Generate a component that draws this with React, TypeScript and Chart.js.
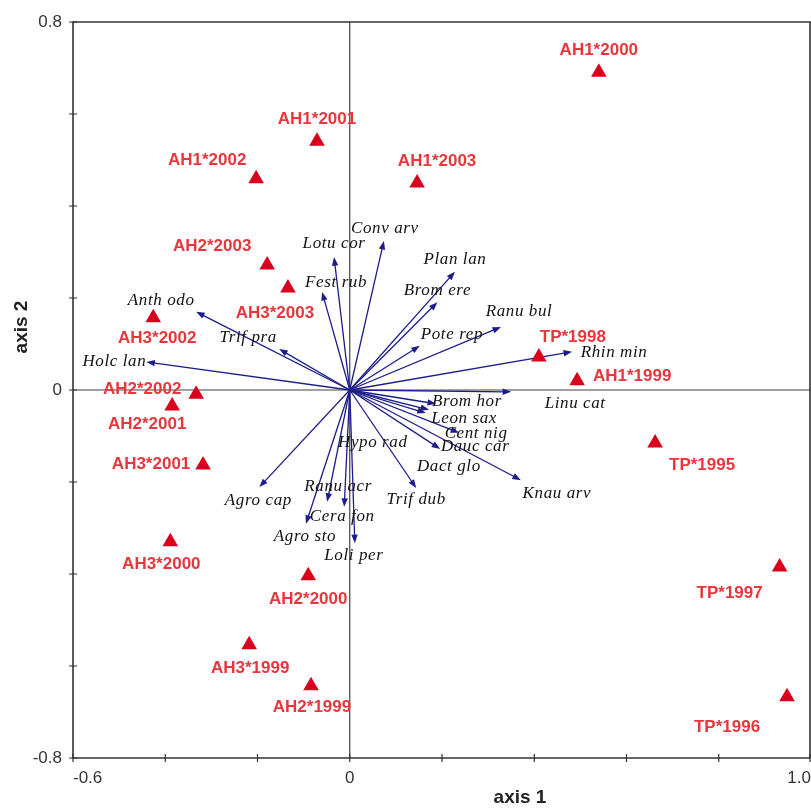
import React, { useEffect, useRef } from 'react';
import { Chart, registerables } from 'chart.js';

Chart.register(...registerables);

// ---------- data ----------
const siteNames = [
  'AH1*2000', 'AH1*2001', 'AH1*2002', 'AH1*2003', 'AH2*2003', 'AH3*2003', 'AH3*2002',
  'AH2*2002', 'AH2*2001', 'AH3*2001', 'AH3*2000', 'AH2*2000', 'AH3*1999', 'AH2*1999',
  'TP*1998', 'AH1*1999', 'TP*1995', 'TP*1997', 'TP*1996',
];
const siteX = [
  0.540, -0.071, -0.203, 0.146, -0.179, -0.134, -0.426,
  -0.333, -0.385, -0.318, -0.389, -0.090, -0.218, -0.084,
  0.410, 0.493, 0.662, 0.932, 0.948,
];
const siteY = [
  0.691, 0.541, 0.459, 0.450, 0.272, 0.222, 0.157,
  -0.009, -0.035, -0.163, -0.330, -0.404, -0.554, -0.643,
  0.072, 0.020, -0.115, -0.385, -0.667,
];

const speciesNames = [
  'Conv arv', 'Lotu cor', 'Fest rub', 'Plan lan', 'Brom ere', 'Ranu bul', 'Pote rep',
  'Rhin min', 'Linu cat', 'Brom hor', 'Leon sax', 'Dact glo', 'Cent nig', 'Dauc car',
  'Knau arv', 'Trif dub', 'Hypo rad', 'Ranu acr', 'Cera fon', 'Agro sto', 'Loli per',
  'Agro cap', 'Anth odo', 'Trif pra', 'Holc lan',
];
const speciesX = [
  0.074, -0.034, -0.060, 0.228, 0.190, 0.328, 0.152,
  0.482, 0.350, 0.187, 0.172, 0.165, 0.237, 0.196,
  0.371, 0.144, 0.0, -0.049, -0.012, -0.095, 0.011,
  -0.196, -0.333, -0.153, -0.441,
];
const speciesY = [
  0.324, 0.289, 0.213, 0.257, 0.191, 0.137, 0.096,
  0.083, -0.004, -0.030, -0.043, -0.050, -0.093, -0.128,
  -0.196, -0.213, 0.0, -0.243, -0.254, -0.291, -0.333,
  -0.211, 0.170, 0.089, 0.061,
];

const xTickValues = [-0.6, 0, 1.0];
const xTickLabels = ['-0.6', '0', '1.0'];
const yTickValues = [-0.8, 0, 0.8];
const yTickLabels = ['-0.8', '0', '0.8'];

const xAxisTitle = 'axis 1';
const yAxisTitle = 'axis 2';

// ---------- layout (pixel offsets of labels) ----------
const siteLabelOffsets: [number, number][] = [
  [0, -22], [0, -22], [-49, -19], [20, -22], [-55, -19], [-13, 25], [4, 21],
  [-54, -5], [-25, 18], [-52, -1], [-9, 23], [0, 23], [1, 23], [1, 22],
  [34, -20], [55, -4], [47, 22], [-50, 26], [-60, 30],
];
const speciesLabelOffsets: [number, number][] = [
  [1, -12], [0, -14], [14, -9], [0, -12], [0, -12], [18, -15], [32, -11],
  [42, 1], [64, 12], [31, -2], [35, 9], [23, 54], [17, 1], [35, -2],
  [36, 13], [0, 12], [23, 53], [11, -15], [-2, 10], [-1, 13], [-1, 12],
  [-1, 13], [-35, -11], [-31, -12], [-32, 0],
];

const SANS = '"Liberation Sans", Arial, sans-serif';
const SERIF = '"Liberation Serif", "Times New Roman", serif';
const ARROW = '#1c1c8a';
const SITE_MARK = '#d8001c';
const SITE_TEXT = '#e8363d';

function labelFor(v: number, values: number[], labels: string[]) {
  for (let i = 0; i < values.length; i++) {
    if (Math.abs(v - values[i]) < 1e-6) return labels[i];
  }
  return '';
}

const biplotPlugin = {
  id: 'biplot',
  beforeDatasetsDraw(chart: any) {
    const { ctx, chartArea: a, scales } = chart;
    const xs = scales.x;
    const ys = scales.y;
    ctx.save();
    const x0 = xs.getPixelForValue(0);
    const y0 = ys.getPixelForValue(0);

    // zero lines
    ctx.strokeStyle = '#444';
    ctx.lineWidth = 1.2;
    ctx.beginPath();
    ctx.moveTo(a.left, y0);
    ctx.lineTo(a.right, y0);
    ctx.moveTo(x0, a.top);
    ctx.lineTo(x0, a.bottom);
    ctx.stroke();

    // frame
    ctx.strokeStyle = '#333';
    ctx.lineWidth = 1.6;
    ctx.beginPath();
    ctx.moveTo(a.left, a.top);
    ctx.lineTo(a.right - 1, a.top);
    ctx.lineTo(a.right - 1, a.bottom);
    ctx.lineTo(a.left, a.bottom);
    ctx.closePath();
    ctx.stroke();

    // crossing tick marks
    ctx.lineWidth = 1.2;
    ctx.beginPath();
    xs.ticks.forEach((t: any) => {
      const px = Math.min(xs.getPixelForValue(t.value), a.right - 1);
      ctx.moveTo(px, a.bottom - 4);
      ctx.lineTo(px, a.bottom + 4);
    });
    ys.ticks.forEach((t: any) => {
      const py = ys.getPixelForValue(t.value);
      ctx.moveTo(a.left - 4, py);
      ctx.lineTo(a.left + 4, py);
    });
    ctx.stroke();

    // species arrows
    ctx.strokeStyle = ARROW;
    ctx.fillStyle = ARROW;
    ctx.lineWidth = 1.3;
    for (let i = 0; i < speciesNames.length; i++) {
      const tx = xs.getPixelForValue(speciesX[i]);
      const ty = ys.getPixelForValue(speciesY[i]);
      const dx = tx - x0;
      const dy = ty - y0;
      const len = Math.hypot(dx, dy);
      if (len < 10) continue;
      const ux = dx / len;
      const uy = dy / len;
      const hl = 8.5;
      const hw = 3.2;
      ctx.beginPath();
      ctx.moveTo(x0, y0);
      ctx.lineTo(tx - ux * hl * 0.6, ty - uy * hl * 0.6);
      ctx.stroke();
      ctx.beginPath();
      ctx.moveTo(tx, ty);
      ctx.lineTo(tx - ux * hl - uy * hw, ty - uy * hl + ux * hw);
      ctx.lineTo(tx - ux * hl + uy * hw, ty - uy * hl - ux * hw);
      ctx.closePath();
      ctx.fill();
    }

    // species labels
    ctx.fillStyle = '#111';
    ctx.font = `italic 17px ${SERIF}`;
    try { (ctx as any).letterSpacing = '0.6px'; } catch (e) { /* ignore */ }
    ctx.textAlign = 'center';
    ctx.textBaseline = 'middle';
    for (let i = 0; i < speciesNames.length; i++) {
      const tx = xs.getPixelForValue(speciesX[i]);
      const ty = ys.getPixelForValue(speciesY[i]);
      const [ox, oy] = speciesLabelOffsets[i];
      ctx.fillText(speciesNames[i], tx + ox, ty + oy);
    }
    try { (ctx as any).letterSpacing = '0px'; } catch (e) { /* ignore */ }
    ctx.restore();
  },
  afterDatasetsDraw(chart: any) {
    const { ctx, scales } = chart;
    const xs = scales.x;
    const ys = scales.y;
    ctx.save();
    ctx.fillStyle = SITE_TEXT;
    ctx.font = `bold 17px ${SANS}`;
    ctx.textAlign = 'center';
    ctx.textBaseline = 'middle';
    for (let i = 0; i < siteNames.length; i++) {
      const px = xs.getPixelForValue(siteX[i]);
      const py = ys.getPixelForValue(siteY[i]);
      const [ox, oy] = siteLabelOffsets[i];
      ctx.fillText(siteNames[i], px + ox, py + oy);
    }
    ctx.restore();
  },
  afterDraw(chart: any) {
    const { ctx } = chart;
    ctx.save();
    ctx.fillStyle = '#222';
    ctx.font = `bold 19px ${SANS}`;
    ctx.textAlign = 'center';
    ctx.textBaseline = 'middle';
    ctx.fillText(xAxisTitle, 520, 798);
    ctx.translate(22, 327);
    ctx.rotate(-Math.PI / 2);
    ctx.fillText(yAxisTitle, 0, 0);
    ctx.restore();
  },
};

export default function App() {
  const canvasRef = useRef<HTMLCanvasElement | null>(null);

  useEffect(() => {
    document.body.style.margin = '0';
    const canvas = canvasRef.current;
    if (!canvas) return;
    const chart = new Chart(canvas, {
      type: 'scatter',
      data: {
        datasets: [
          {
            label: 'sites',
            data: siteNames.map((_, i) => ({ x: siteX[i], y: siteY[i] })),
            pointStyle: 'triangle',
            pointRadius: 9,
            pointHoverRadius: 9,
            backgroundColor: SITE_MARK,
            borderColor: SITE_MARK,
            borderWidth: 0,
            clip: false,
          },
        ],
      },
      options: {
        responsive: false,
        animation: false,
        devicePixelRatio: 1,
        layout: { autoPadding: false, padding: { top: 22, right: 0, left: 0, bottom: 0 } },
        plugins: {
          legend: { display: false },
          tooltip: { enabled: false },
        },
        scales: {
          x: {
            type: 'linear',
            min: -0.6,
            max: 1.0,
            grid: { display: false, drawTicks: true, tickLength: 10 },
            border: { display: false },
            afterFit: (s: any) => {
              s.height = 51;
            },
            ticks: {
              stepSize: 0.2,
              autoSkip: false,
              maxRotation: 0,
              align: 'inner',
              padding: 0,
              color: '#333',
              font: { family: SANS, size: 17 },
              callback: (v: any) => labelFor(Number(v), xTickValues, xTickLabels),
            },
          },
          y: {
            type: 'linear',
            min: -0.8,
            max: 0.8,
            grid: { display: false, drawTicks: false },
            border: { display: false },
            afterFit: (s: any) => {
              s.width = 73;
            },
            ticks: {
              stepSize: 0.2,
              autoSkip: false,
              padding: 11,
              color: '#333',
              font: { family: SANS, size: 17 },
              callback: (v: any) => labelFor(Number(v), yTickValues, yTickLabels),
            },
          },
        },
      },
      plugins: [biplotPlugin],
    });
    return () => chart.destroy();
  }, []);

  return (
    <div style={{ width: 811, height: 809 }}>
      <canvas ref={canvasRef} width={811} height={809} style={{ display: 'block' }} />
    </div>
  );
}
